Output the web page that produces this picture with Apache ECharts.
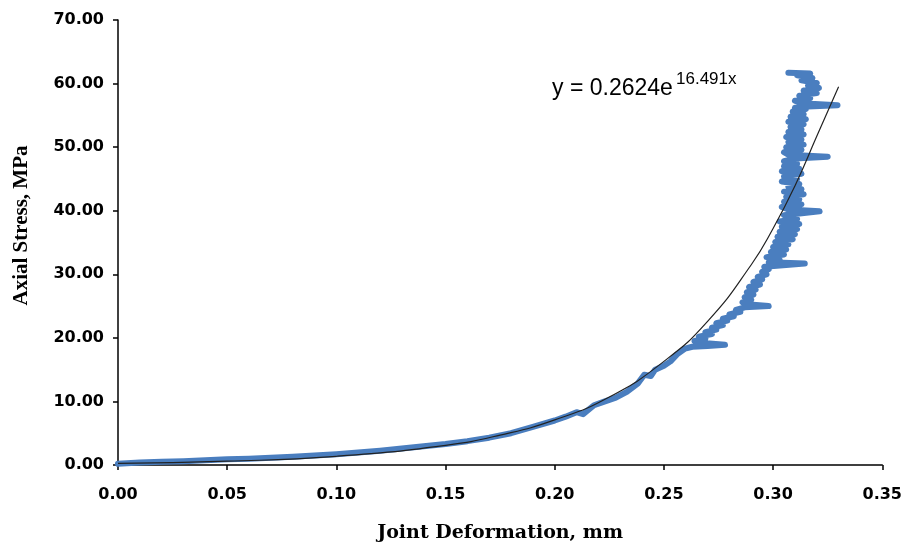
<!DOCTYPE html>
<html>
<head>
<meta charset="utf-8">
<script src="https://cdn.jsdelivr.net/npm/echarts@6/dist/echarts.min.js"></script>
<style>
  html, body { margin: 0; padding: 0; background: #fff; }
  #chart { width: 905px; height: 548px; }
</style>
</head>
<body>
<div id="chart"></div>
<script>
var lowX = [0, 0.01, 0.02, 0.03, 0.04, 0.05, 0.06, 0.07, 0.08, 0.09, 0.10, 0.11, 0.12, 0.13, 0.14, 0.15, 0.16, 0.17, 0.18, 0.19, 0.20,
  0.205, 0.21, 0.213, 0.218, 0.222, 0.228, 0.233, 0.238, 0.241, 0.244, 0.246, 0.25, 0.253, 0.256, 0.2597, 0.263, 0.270, 0.278,
  0.268, 0.264, 0.269, 0.266, 0.272, 0.269, 0.274, 0.272, 0.277, 0.274, 0.279, 0.277, 0.282, 0.280, 0.285, 0.283, 0.287, 0.298,
  0.288, 0.286, 0.290, 0.287, 0.291, 0.288, 0.292, 0.289, 0.294, 0.291, 0.295, 0.293, 0.297, 0.295, 0.298, 0.296, 0.3145];
var lowY = [0.2, 0.4, 0.5, 0.6, 0.75, 0.9, 1.0, 1.15, 1.3, 1.5, 1.7, 1.95, 2.25, 2.6, 2.95, 3.3, 3.75, 4.3, 5.0, 6.0, 7.0,
  7.6, 8.3, 8.0, 9.4, 9.9, 10.6, 11.5, 12.8, 14.2, 14.0, 15.0, 15.6, 16.3, 17.4, 18.3, 18.6, 18.7, 18.9,
  19.2, 19.5, 19.9, 20.2, 20.6, 20.9, 21.3, 21.6, 22.0, 22.3, 22.7, 23.0, 23.4, 23.7, 24.1, 24.4, 24.8, 25.0,
  25.3, 25.6, 26.0, 26.4, 26.8, 27.2, 27.6, 28.0, 28.4, 28.8, 29.2, 29.6, 30.0, 30.4, 30.8, 31.2, 31.7];

// upper part, near-vertical band
var midX = [0.298, 0.303, 0.297, 0.305, 0.299, 0.306, 0.300, 0.307, 0.301, 0.309,
  0.302, 0.310, 0.303, 0.311, 0.304, 0.312, 0.303, 0.311, 0.305, 0.3213];
var midY = [31.9, 32.3, 32.7, 33.1, 33.5, 33.9, 34.3, 34.7, 35.1, 35.5,
  35.9, 36.3, 36.7, 37.1, 37.5, 37.9, 38.3, 38.7, 39.3, 39.9];

var highX = [0.307, 0.304, 0.313, 0.305, 0.312, 0.306, 0.314, 0.305, 0.313, 0.307,
  0.312, 0.304, 0.311, 0.305, 0.313, 0.304, 0.312, 0.305, 0.311, 0.305, 0.310, 0.325];
var highY = [40.2, 40.6, 41.0, 41.4, 41.8, 42.2, 42.6, 43.0, 43.4, 43.8,
  44.2, 44.6, 45.0, 45.4, 45.8, 46.2, 46.6, 47.0, 47.4, 47.8, 48.2, 48.5];

var peakX = [0.307, 0.305, 0.313, 0.306, 0.314, 0.307, 0.313, 0.306, 0.314, 0.307,
  0.313, 0.308, 0.314, 0.307, 0.315, 0.308, 0.314, 0.309, 0.315, 0.310, 0.316, 0.3295];
var peakY = [48.8, 49.2, 49.6, 50.0, 50.4, 50.8, 51.2, 51.6, 52.0, 52.4,
  52.8, 53.2, 53.6, 54.0, 54.4, 54.8, 55.2, 55.6, 56.0, 56.2, 56.4, 56.6];

var topX = [0.313, 0.310, 0.317, 0.312, 0.320, 0.314, 0.321, 0.316, 0.320, 0.313, 0.318, 0.311, 0.317, 0.307];
var topY = [56.9, 57.3, 57.7, 58.1, 58.5, 58.9, 59.3, 59.7, 60.1, 60.5, 60.9, 61.3, 61.6, 61.7];

// exponential trendline, values
var trendX = [0, 0.05, 0.10, 0.15, 0.175, 0.20, 0.225, 0.25, 0.27, 0.29, 0.30, 0.31, 0.32, 0.33];
var trendY = [0.26, 0.6, 1.37, 3.1, 4.7, 7.1, 10.7, 16.3, 22.6, 31.5, 37.2, 43.9, 51.7, 59.5];

var xTicks = { min: 0, max: 0.35, interval: 0.05 };
var yTicks = { min: 0, max: 70, interval: 10 };

function pairs(xs, ys) {
  return xs.map(function (x, i) { return [x, ys[i]]; });
}

var testData = [].concat(
  pairs(lowX, lowY), pairs(midX, midY), pairs(highX, highY), pairs(peakX, peakY), pairs(topX, topY)
);

var chart = echarts.init(document.getElementById('chart'), null, { renderer: 'canvas' });

var labelFont = { color: '#000', fontFamily: 'DejaVu Sans', fontWeight: 'bold', fontSize: 16 };

var option = {
  animation: false,
  grid: { left: 118, right: 20, top: 20, bottom: 81 },
  xAxis: {
    type: 'value',
    min: xTicks.min, max: xTicks.max, interval: xTicks.interval,
    name: 'Joint Deformation, mm',
    nameLocation: 'middle',
    nameGap: 59,
    nameTextStyle: { color: '#000', fontFamily: 'DejaVu Serif', fontWeight: 'bold', fontSize: 19 },
    axisLine: { lineStyle: { color: '#000', width: 1.5 } },
    axisTick: { show: true, length: 5, lineStyle: { color: '#000', width: 1.5 } },
    axisLabel: Object.assign({ margin: 22, formatter: function (v) { return v.toFixed(2); } }, labelFont),
    splitLine: { show: false }
  },
  yAxis: {
    type: 'value',
    min: yTicks.min, max: yTicks.max, interval: yTicks.interval,
    name: 'Axial Stress, MPa',
    nameLocation: 'middle',
    nameGap: 86,
    nameTextStyle: { color: '#000', fontFamily: 'Liberation Serif', fontWeight: 'bold', fontSize: 21, padding: [0, 0, 0, 34] },
    axisLine: { show: true, lineStyle: { color: '#000', width: 1.5 } },
    axisTick: { show: true, length: 5, lineStyle: { color: '#000', width: 1.5 } },
    axisLabel: Object.assign({ margin: 14, formatter: function (v) { return v.toFixed(2); } }, labelFont),
    splitLine: { show: false }
  },
  series: [
    {
      name: 'Test',
      type: 'line',
      data: testData,
      showSymbol: false,
      lineStyle: { color: '#4A7EBF', width: 6, join: 'round', cap: 'round' },
      z: 2
    },
    {
      name: 'Trend',
      type: 'line',
      data: pairs(trendX, trendY),
      smooth: true,
      showSymbol: false,
      lineStyle: { color: '#222', width: 1.2 },
      z: 3
    }
  ],
  graphic: [
    {
      type: 'text', left: 552, top: 77,
      style: { text: 'y = 0.2624e', fill: '#000', font: '23px "Liberation Sans"' }
    },
    {
      type: 'text', left: 676, top: 71,
      style: { text: '16.491x', fill: '#000', font: '17px "Liberation Sans"' }
    }
  ]
};

chart.setOption(option);
</script>
</body>
</html>
